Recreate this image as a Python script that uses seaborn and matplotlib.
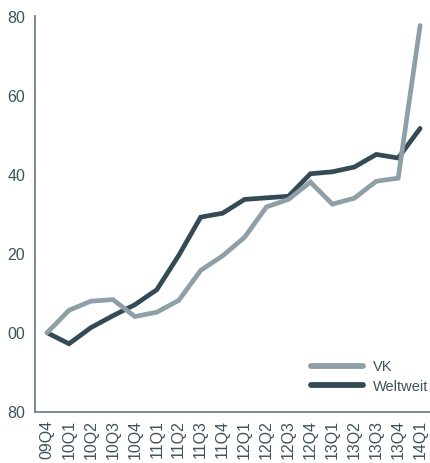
import matplotlib
matplotlib.use("Agg")
import matplotlib.pyplot as plt
import seaborn as sns
import pandas as pd

quarters = ["09Q4", "10Q1", "10Q2", "10Q3", "10Q4", "11Q1", "11Q2", "11Q3", "11Q4",
            "12Q1", "12Q2", "12Q3", "12Q4", "13Q1", "13Q2", "13Q3", "13Q4", "14Q1"]
vk = [0, 5.7, 8.0, 8.4, 4.1, 5.2, 8.2, 15.8, 19.5, 24.2, 31.9, 33.8, 38.2, 32.6, 34.1, 38.4, 39.2, 77.9]
weltweit = [0, -2.8, 1.3, 4.3, 7.1, 10.9, 19.6, 29.3, 30.3, 33.8, 34.2, 34.6, 40.3, 40.8, 42.0, 45.2, 44.3, 51.8]
ytick_values = [-20, 0, 20, 40, 60, 80]
ytick_labels = ["80", "00", "20", "40", "60", "80"]

series_names = ["Weltweit", "VK"]
colors = {"VK": "#8e9fa7", "Weltweit": "#344b56"}

df = pd.concat([
    pd.DataFrame({"x": range(len(quarters)), "value": weltweit, "series": "Weltweit"}),
    pd.DataFrame({"x": range(len(quarters)), "value": vk, "series": "VK"}),
])

sns.set_style("white")
plt.rcParams["font.family"] = ["Liberation Sans", "DejaVu Sans"]

fig = plt.figure(figsize=(4.30, 4.63), dpi=100)
ax = fig.add_axes([35 / 430, 51 / 463, 395 / 430, 396 / 463])

sns.lineplot(data=df, x="x", y="value", hue="series", hue_order=series_names,
             palette=colors, linewidth=3.4, ax=ax, legend=True)
for line in ax.lines:
    line.set_solid_capstyle("round")
    line.set_solid_joinstyle("miter")

ax.set_xlim(-0.55, 17.45)
ax.set_ylim(-20.1, 80.3)
ax.set_xticks(range(len(quarters)))
ax.set_xticklabels(quarters, rotation=90, fontsize=11.5, color="#3f525c")
ax.set_yticks(ytick_values)
ax.set_yticklabels(ytick_labels, fontsize=11.5, color="#3f525c")
ax.tick_params(axis="both", length=0)
ax.tick_params(axis="y", pad=7)
ax.tick_params(axis="x", pad=6)
ax.set_xlabel("")
ax.set_ylabel("")

for side in ["top", "right"]:
    ax.spines[side].set_visible(False)
for side in ["left", "bottom"]:
    ax.spines[side].set_color("#6f8189")
    ax.spines[side].set_linewidth(1.3)

handles, labels = ax.get_legend_handles_labels()
order = [labels.index("VK"), labels.index("Weltweit")]
leg = ax.legend([handles[i] for i in order], [labels[i] for i in order],
                loc="lower right", bbox_to_anchor=(0.997, 0.150), bbox_transform=fig.transFigure,
                frameon=False, fontsize=10.5, handlelength=3.6, handletextpad=0.7,
                labelspacing=0.35, borderpad=0, borderaxespad=0)
for t in leg.get_texts():
    t.set_color("#3f525c")
for h in leg.get_lines():
    h.set_linewidth(4.2)
    h.set_solid_capstyle("round")

fig.savefig("out.png", dpi=100)
